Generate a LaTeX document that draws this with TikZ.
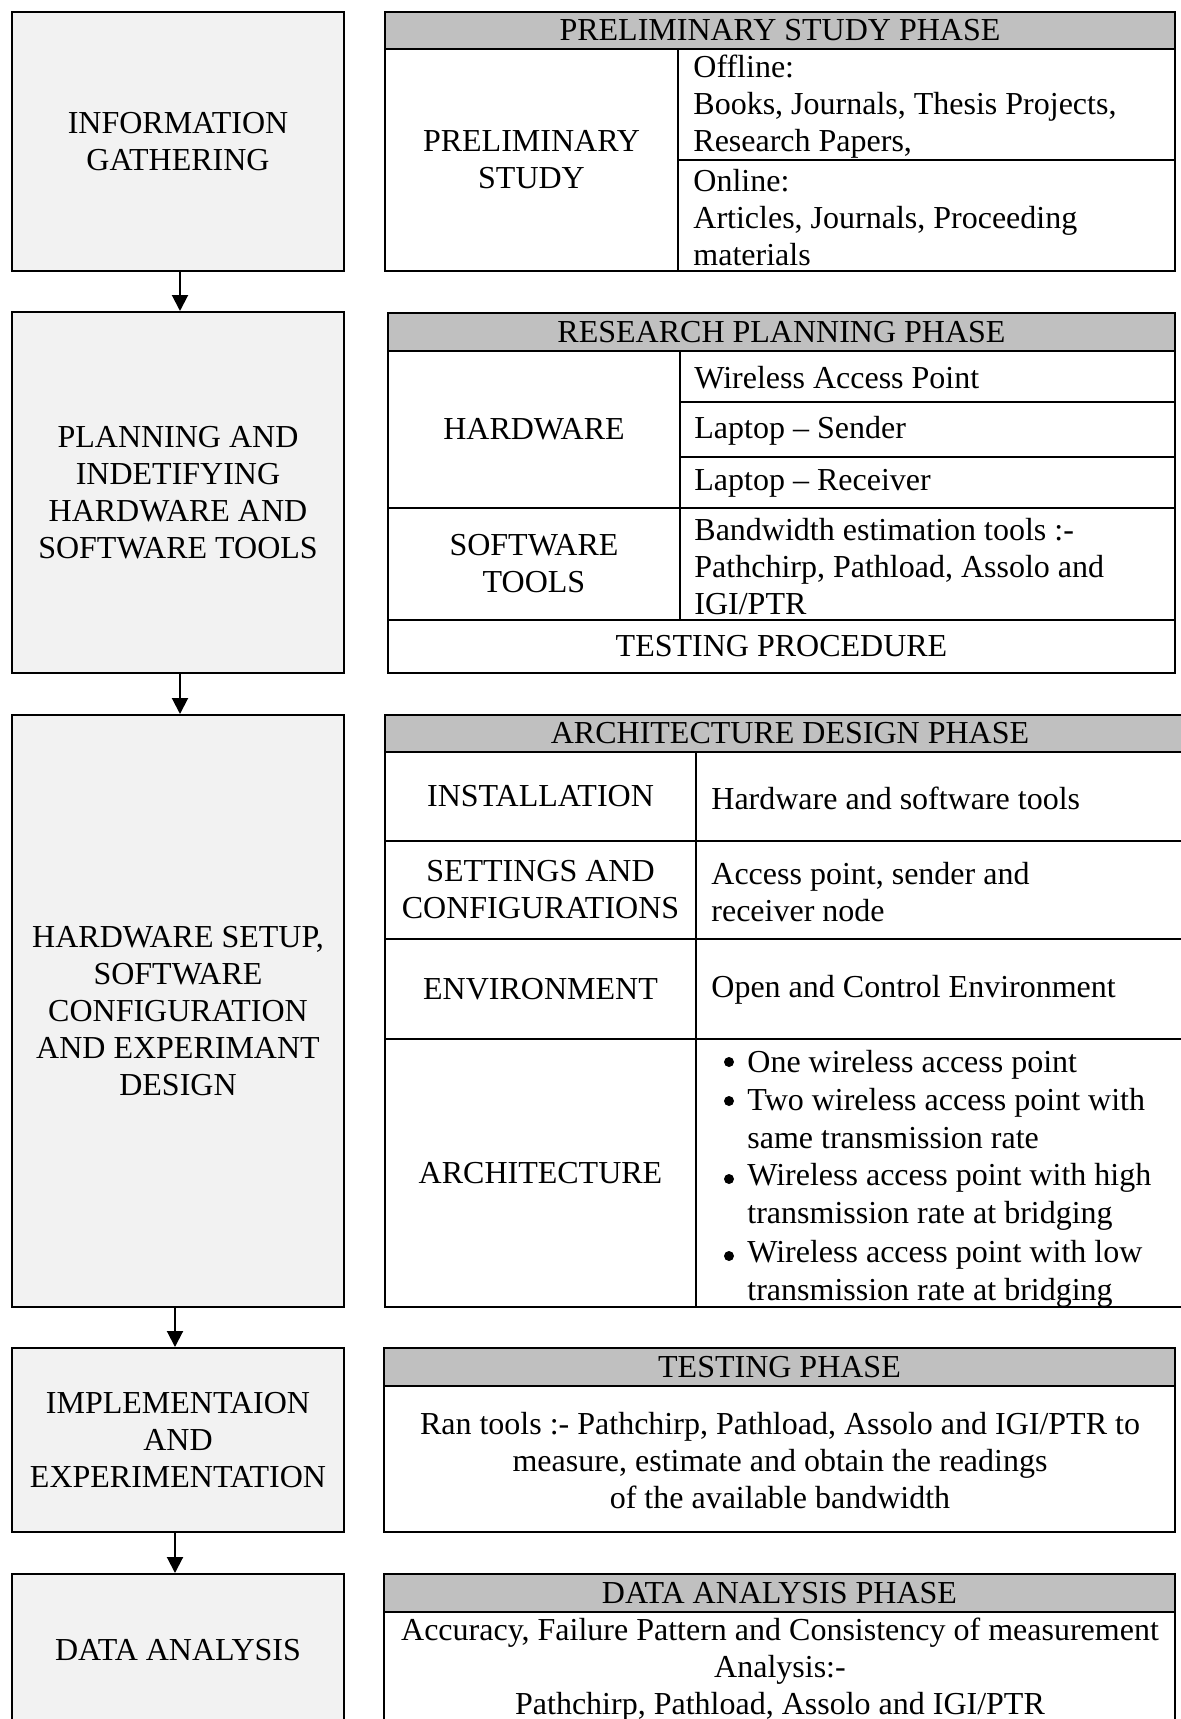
\documentclass[tikz,border=0pt]{standalone}
\usepackage{fontspec}
\setmainfont{Liberation Serif}
\usetikzlibrary{arrows.meta}
\definecolor{boxgray}{RGB}{242,242,242}
\definecolor{hdrgray}{RGB}{192,192,192}
% #1 style, #2 name, #3 x1, #4 y1, #5 x2, #6 y2, #7 text  (pixel units, 1px = 0.5pt)
\newcommand\cellnode[7]{%
  \pgfmathsetmacro\cw{(#5-#3)*0.5}\pgfmathsetmacro\ch{(#6-#4)*0.5}%
  \pgfmathsetmacro\cx{(#3+#5)/2}\pgfmathsetmacro\cy{(#4+#6)/2}%
  \node[#1, minimum width=\cw pt, minimum height=\ch pt] (#2) at (\cx,\cy) {#7};}
\begin{document}
\begin{tikzpicture}[x=0.5pt,y=-0.5pt,
  every node/.style={font=\fontsize{16}{18.5}\selectfont},
  lbox/.style={draw, line width=1pt, fill=boxgray, inner sep=0pt, align=center},
  cellb/.style={draw, line width=1pt, inner sep=0pt, align=center},
  hdr/.style={cellb, fill=hdrgray},
  txt/.style={inner sep=0pt, align=left, anchor=west},
  ctxt/.style={inner sep=0pt, align=center},
  item/.style={txt, font=\fontsize{16}{19}\selectfont},
  dot/.style={fill=black},
  arr/.style={line width=1pt, -{Triangle[length=8pt,width=8pt]}}]
\fill[white] (0,0) rectangle (1181,1719);
\useasboundingbox (0,0) rectangle (1181,1719);

% ---------- left column ----------
\cellnode{lbox}{L1}{12}{12}{344}{271}{INFORMATION\\GATHERING}
\cellnode{lbox}{L2}{12}{312}{344}{673}{PLANNING AND\\INDETIFYING\\HARDWARE AND\\SOFTWARE TOOLS}
\cellnode{lbox}{L3}{12}{715}{344}{1307}{HARDWARE SETUP,\\SOFTWARE\\CONFIGURATION\\AND EXPERIMANT\\DESIGN}
\cellnode{lbox}{L4}{12}{1348}{344}{1532}{IMPLEMENTAION\\AND\\EXPERIMENTATION}
\cellnode{lbox}{L5}{12}{1574}{344}{1726}{DATA ANALYSIS}

\draw[arr] ([xshift=1pt]L1.south) -- ([xshift=1pt]L2.north);
\draw[arr] ([xshift=1pt]L2.south) -- ([xshift=1pt]L3.north);
\draw[arr] ([xshift=-1.5pt]L3.south) -- ([xshift=-1.5pt]L4.north);
\draw[arr] ([xshift=-1.5pt]L4.south) -- ([xshift=-1.5pt]L5.north);

% ---------- table 1 ----------
\cellnode{hdr}{T1h}{385}{12}{1175}{49}{PRELIMINARY STUDY PHASE}
\cellnode{cellb}{T1l}{385}{49}{678}{271}{PRELIMINARY\\STUDY}
\cellnode{cellb}{T1a}{678}{49}{1175}{160}{}
\cellnode{cellb}{T1b}{678}{160}{1175}{271}{}
\node[txt] (T1at) at (693,107) {Offline:\\Books, Journals, Thesis Projects,\\Research Papers,};
\node[txt] (T1bt) at (693,218) {Online:\\Articles, Journals, Proceeding\\materials};

% ---------- table 2 ----------
\cellnode{hdr}{T2h}{388}{313}{1175}{351}{RESEARCH PLANNING PHASE}
\cellnode{cellb}{T2hw}{388}{351}{680}{508}{HARDWARE}
\cellnode{cellb}{T2sw}{388}{508}{680}{620}{SOFTWARE\\TOOLS}
\cellnode{cellb}{T2a}{680}{351}{1175}{402}{}
\cellnode{cellb}{T2b}{680}{402}{1175}{457}{}
\cellnode{cellb}{T2c}{680}{457}{1175}{508}{}
\cellnode{cellb}{T2d}{680}{508}{1175}{620}{}
\cellnode{cellb}{T2tp}{388}{620}{1175}{673}{TESTING PROCEDURE}
\node[txt] (T2at) at (694,378) {Wireless Access Point};
\node[txt] (T2bt) at (694,431) {Laptop -- Sender};
\node[txt] (T2ct) at (694,483) {Laptop -- Receiver};
\node[txt] (T2dt) at (694,567) {Bandwidth estimation tools :-\\Pathchirp, Pathload, Assolo and\\IGI/PTR};

% ---------- table 3 ----------
\cellnode{hdr}{T3h}{385}{715}{1195}{752}{ARCHITECTURE DESIGN PHASE}
\cellnode{cellb}{T3l1}{385}{752}{696}{841}{INSTALLATION}
\cellnode{cellb}{T3l2}{385}{841}{696}{939}{SETTINGS AND\\CONFIGURATIONS}
\cellnode{cellb}{T3l3}{385}{939}{696}{1039}{ENVIRONMENT}
\cellnode{cellb}{T3l4}{385}{1039}{696}{1307}{ARCHITECTURE}
\cellnode{cellb}{T3r1}{696}{752}{1195}{841}{}
\cellnode{cellb}{T3r2}{696}{841}{1195}{939}{}
\cellnode{cellb}{T3r3}{696}{939}{1195}{1039}{}
\cellnode{cellb}{T3r4}{696}{1039}{1195}{1307}{}
\node[txt] (T3r1t) at (711,798) {Hardware and software tools};
\node[txt] (T3r2t) at (711,892) {Access point, sender and\\receiver node};
\node[txt] (T3r3t) at (711,990) {Open and Control Environment};
\node[item] (T3b1) at (747,1065) {One wireless access point};
\node[item] (T3b2) at (747,1119) {Two wireless access point with\\same transmission rate};
\node[item] (T3b3) at (747,1197) {Wireless access point with high\\transmission rate at bridging};
\node[item] (T3b4) at (747,1274) {Wireless access point with low\\transmission rate at bridging};
\fill[dot] (729,1062) circle (2.5pt);
\fill[dot] (729,1101) circle (2.5pt);
\fill[dot] (729,1179) circle (2.5pt);
\fill[dot] (729,1256) circle (2.5pt);

% ---------- table 4 ----------
\cellnode{hdr}{T4h}{384}{1348}{1175}{1386}{TESTING PHASE}
\cellnode{cellb}{T4b}{384}{1386}{1175}{1532}{}
\node[ctxt] (T4t) at (780,1461) {Ran tools :- Pathchirp, Pathload, Assolo and IGI/PTR to\\measure, estimate and obtain the readings\\of the available bandwidth};

% ---------- table 5 ----------
\cellnode{hdr}{T5h}{384}{1574}{1175}{1612}{DATA ANALYSIS PHASE}
\cellnode{cellb}{T5b}{384}{1612}{1175}{1740}{}
\node[ctxt] (T5t) at (780,1670) {Accuracy, Failure Pattern and Consistency of measurement\\Analysis:-\\Pathchirp, Pathload, Assolo and IGI/PTR};
\end{tikzpicture}
\end{document}
